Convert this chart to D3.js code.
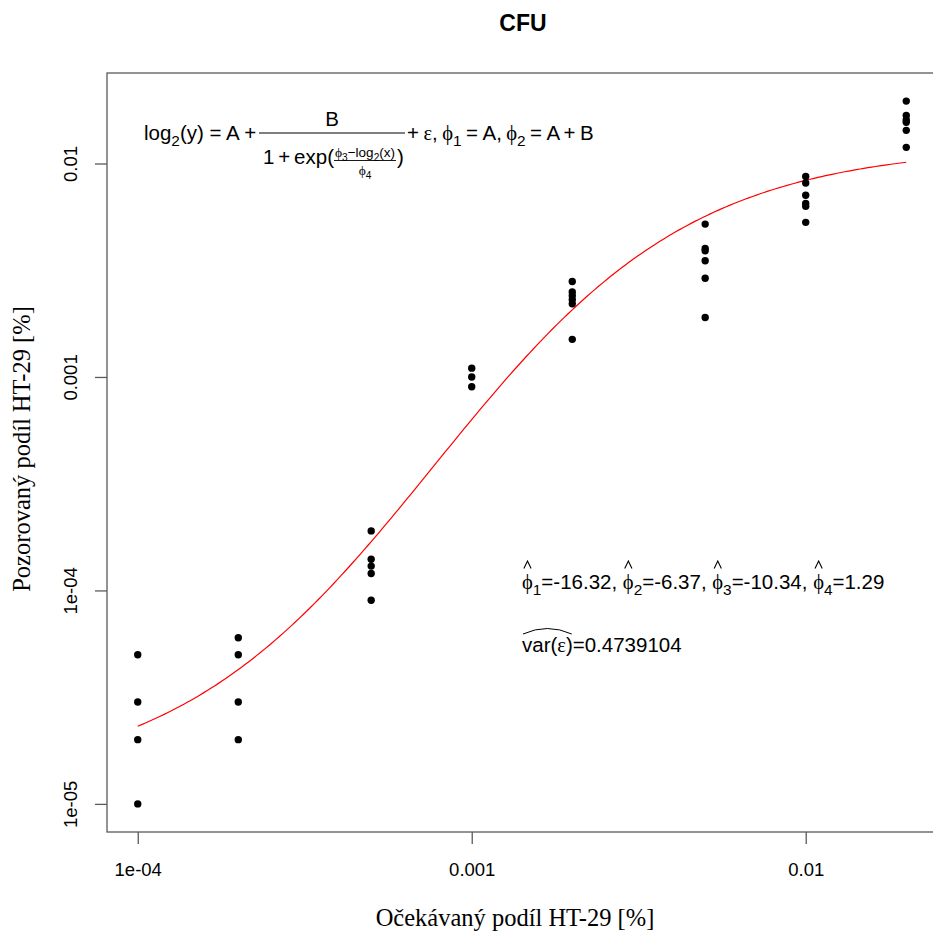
<!DOCTYPE html>
<html>
<head>
<meta charset="utf-8">
<script src="https://cdn.jsdelivr.net/npm/d3@7"></script>
<style>
  body { margin: 0; background: #fff; }
  svg { display: block; }
</style>
</head>
<body>
<script>

// expected share of HT-29 [%] (x) and observed share per level (y)
var expected = [0.0001, 0.0002, 0.0005, 0.001, 0.002, 0.005, 0.01, 0.02];
var observed = [
    [5e-5, 3e-5, 2e-5, 1e-5],
    [6e-5, 5e-5, 3e-5, 2e-5],
    [1.9e-4, 1.4e-4, 1.3e-4, 1.2e-4, 9e-5],
    [1.1e-3, 1.0e-3, 9e-4],
    [2.8e-3, 2.5e-3, 2.4e-3, 2.3e-3, 2.2e-3, 1.5e-3],
    [5.2e-3, 4.0e-3, 3.9e-3, 3.5e-3, 2.9e-3, 1.9e-3],
    [8.7e-3, 8.1e-3, 7.1e-3, 6.5e-3, 6.3e-3, 5.3e-3],
    [1.96e-2, 1.68e-2, 1.6e-2, 1.56e-2, 1.43e-2, 1.19e-2]
];

// fitted parameters of the logistic model
var phiHat = [-16.32, -6.37, -10.34, 1.29];
var varEps = 0.4739104;

var xTicks = [1e-4, 1e-3, 1e-2];
var xTickLabels = ["1e-04", "0.001", "0.01"];
var yTicks = [1e-5, 1e-4, 1e-3, 1e-2];
var yTickLabels = ["1e-05", "1e-04", "0.001", "0.01"];

var sans = "'Liberation Sans', Arial, Helvetica, sans-serif";
var serif = "'Liberation Serif', 'Times New Roman', serif";

var width = 933, height = 936;
var plot = {left: 107, right: 937, top: 73, bottom: 832};

// log axes padded 4% like R does
var logExtent = function(vals){
    var lo = Math.log10(d3.min(vals)), hi = Math.log10(d3.max(vals));
    var pad = (hi - lo) * 0.04;
    return [Math.pow(10, lo - pad), Math.pow(10, hi + pad)];
};

var allY = observed.reduce(function(acc, v){ return acc.concat(v); }, []);

var x = d3.scaleLog().domain(logExtent(expected)).range([plot.left, plot.right]);
var y = d3.scaleLog().domain(logExtent(allY)).range([plot.bottom, plot.top]);

var svg = d3.select("body").append("svg")
    .attr("width", width)
    .attr("height", height);

svg.append("rect").attr("width", width).attr("height", height).attr("fill", "#fff");

// title
svg.append("text")
    .attr("x", (plot.left + plot.right) / 2 + 1)
    .attr("y", 31)
    .attr("text-anchor", "middle")
    .style("font-family", sans)
    .style("font-weight", "bold")
    .style("font-size", "23px")
    .text("CFU");

// axes
var xAxis = svg.append("g")
    .attr("transform", "translate(0," + plot.bottom + ")")
    .call(d3.axisBottom(x).tickValues(xTicks).tickSize(12)
        .tickFormat(function(d, i){ return xTickLabels[i]; }));

var yAxis = svg.append("g")
    .attr("transform", "translate(" + plot.left + ",0)")
    .call(d3.axisLeft(y).tickValues(yTicks).tickSize(12)
        .tickFormat(function(d, i){ return yTickLabels[i]; }));

[xAxis, yAxis].forEach(function(ax){
    ax.select(".domain").remove();
    ax.selectAll(".tick line").attr("stroke", "#5a5a5a").attr("stroke-width", 1.3);
    ax.selectAll(".tick text")
        .attr("fill", "#000")
        .style("font-family", sans)
        .style("font-size", "18.5px");
});

xAxis.selectAll(".tick text").attr("y", 44).attr("dy", 0);
yAxis.selectAll(".tick text")
    .attr("transform", "rotate(-90)")
    .attr("text-anchor", "middle")
    .attr("x", 0).attr("y", -30).attr("dy", 0);

// box
svg.append("rect")
    .attr("x", plot.left).attr("y", plot.top)
    .attr("width", plot.right - plot.left)
    .attr("height", plot.bottom - plot.top)
    .attr("fill", "none")
    .attr("stroke", "#5a5a5a")
    .attr("stroke-width", 1.3);

// axis titles
svg.append("text")
    .attr("x", 515)
    .attr("y", 926)
    .attr("text-anchor", "middle")
    .style("font-family", serif)
    .style("font-size", "24.5px")
    .text("Očekávaný podíl HT-29 [%]");

svg.append("text")
    .attr("transform", "translate(30,449) rotate(-90)")
    .attr("text-anchor", "middle")
    .style("font-family", serif)
    .style("font-size", "24.5px")
    .text("Pozorovaný podíl HT-29 [%]");

// fitted curve
var fitted = function(v){
    var A = phiHat[0], B = phiHat[1] - phiHat[0];
    return Math.pow(2, A + B / (1 + Math.exp((phiHat[2] - Math.log2(v)) / phiHat[3])));
};
var lo = Math.log10(d3.min(expected)), hi = Math.log10(d3.max(expected));
var curve = d3.range(0, 201).map(function(i){
    var v = Math.pow(10, lo + (hi - lo) * i / 200);
    return [v, fitted(v)];
});

svg.append("path")
    .datum(curve)
    .attr("fill", "none")
    .attr("stroke", "#ff0000")
    .attr("stroke-width", 1.2)
    .attr("d", d3.line()
        .x(function(d){ return x(d[0]); })
        .y(function(d){ return y(d[1]); }));

// points
var pts = [];
expected.forEach(function(ev, i){
    observed[i].forEach(function(ov){ pts.push([ev, ov]); });
});
svg.append("g").selectAll("circle")
    .data(pts)
    .enter().append("circle")
    .attr("cx", function(d){ return x(d[0]); })
    .attr("cy", function(d){ return y(d[1]); })
    .attr("r", 3.7)
    .attr("fill", "#000");

// --- plotmath-ish helpers ---
// parts: {t: text, sub: bool, greek: bool, hat: bool}
function mathText(g, px, py, size, anchor, parts, spacing){
    var t = g.append("text")
        .attr("x", px).attr("y", py)
        .attr("text-anchor", anchor || "start")
        .style("font-family", sans)
        .style("font-size", size + "px");
    if(spacing){ t.style("word-spacing", spacing); }
    var shifted = false;
    var hats = [];
    parts.forEach(function(p){
        var s = t.append("tspan").text(p.t);
        if(p.greek){ s.style("font-family", serif); }
        if(p.sub){
            s.style("font-size", (size * 0.75) + "px");
            if(!shifted){ s.attr("dy", size * 0.28); shifted = true; }
        } else if(shifted){
            s.attr("dy", -size * 0.28);
            shifted = false;
        }
        if(p.hat){ hats.push(s); }
    });
    // hats drawn as a small caret line, like R does
    hats.forEach(function(s){
        var b = s.node().getBBox();
        var cx = b.x + b.width / 2;
        g.append("path")
            .attr("d", "M" + (cx - 3.6) + "," + (py - size * 1.0) +
                " L" + cx + "," + (py - size * 1.36) +
                " L" + (cx + 3.6) + "," + (py - size * 1.0))
            .attr("fill", "none").attr("stroke", "#000").attr("stroke-width", 1.1);
    });
    return t;
}

var fg = svg.append("g");
var fs = 20.5;

// model formula
mathText(fg, 144, 140, fs, "start", [
    {t: "log"}, {t: "2", sub: true}, {t: "(y) = A +"}
]);
fg.append("line").attr("x1", 259).attr("x2", 405).attr("y1", 133).attr("y2", 133)
    .attr("stroke", "#000").attr("stroke-width", 1.1);
mathText(fg, 332, 125.5, fs, "middle", [{t: "B"}]);
mathText(fg, 263, 164, fs, "start", [{t: "1 + exp("}], "-0.09em");
mathText(fg, 365, 157, 13.5, "middle", [
    {t: "ϕ", greek: true}, {t: "3", sub: true}, {t: "−log"}, {t: "2", sub: true}, {t: "(x)"}
]);
fg.append("line").attr("x1", 334).attr("x2", 396).attr("y1", 160.5).attr("y2", 160.5)
    .attr("stroke", "#000").attr("stroke-width", 0.9);
mathText(fg, 365, 175, 13.5, "middle", [{t: "ϕ", greek: true}, {t: "4", sub: true}]);
mathText(fg, 397, 164, fs, "start", [{t: ")"}]);
mathText(fg, 407, 140, fs, "start", [
    {t: "+ "}, {t: "ε", greek: true}, {t: ", "},
    {t: "ϕ", greek: true}, {t: "1", sub: true}, {t: " = A, "},
    {t: "ϕ", greek: true}, {t: "2", sub: true}, {t: " = A + B"}
], "-0.06em");

// estimates
var estParts = [];
phiHat.forEach(function(v, i){
    estParts.push({t: "ϕ", greek: true, hat: true});
    estParts.push({t: String(i + 1), sub: true});
    estParts.push({t: "=" + v.toFixed(2) + (i < phiHat.length - 1 ? ", " : "")});
});
mathText(fg, 522, 589, fs, "start", estParts);

var vt = mathText(fg, 522, 652, fs, "start", [{t: "var("}, {t: "ε", greek: true}, {t: ")"}]);
var vb = vt.node().getBBox();
fg.append("path")
    .attr("d", "M" + (vb.x + 1) + "," + (vb.y + 1) +
        " Q" + (vb.x + vb.width / 2) + "," + (vb.y - 10) + " " + (vb.x + vb.width - 1) + "," + (vb.y + 1))
    .attr("fill", "none").attr("stroke", "#000").attr("stroke-width", 1);
mathText(fg, vb.x + vb.width, 652, fs, "start", [{t: "=" + varEps}]);

</script>
</body>
</html>
